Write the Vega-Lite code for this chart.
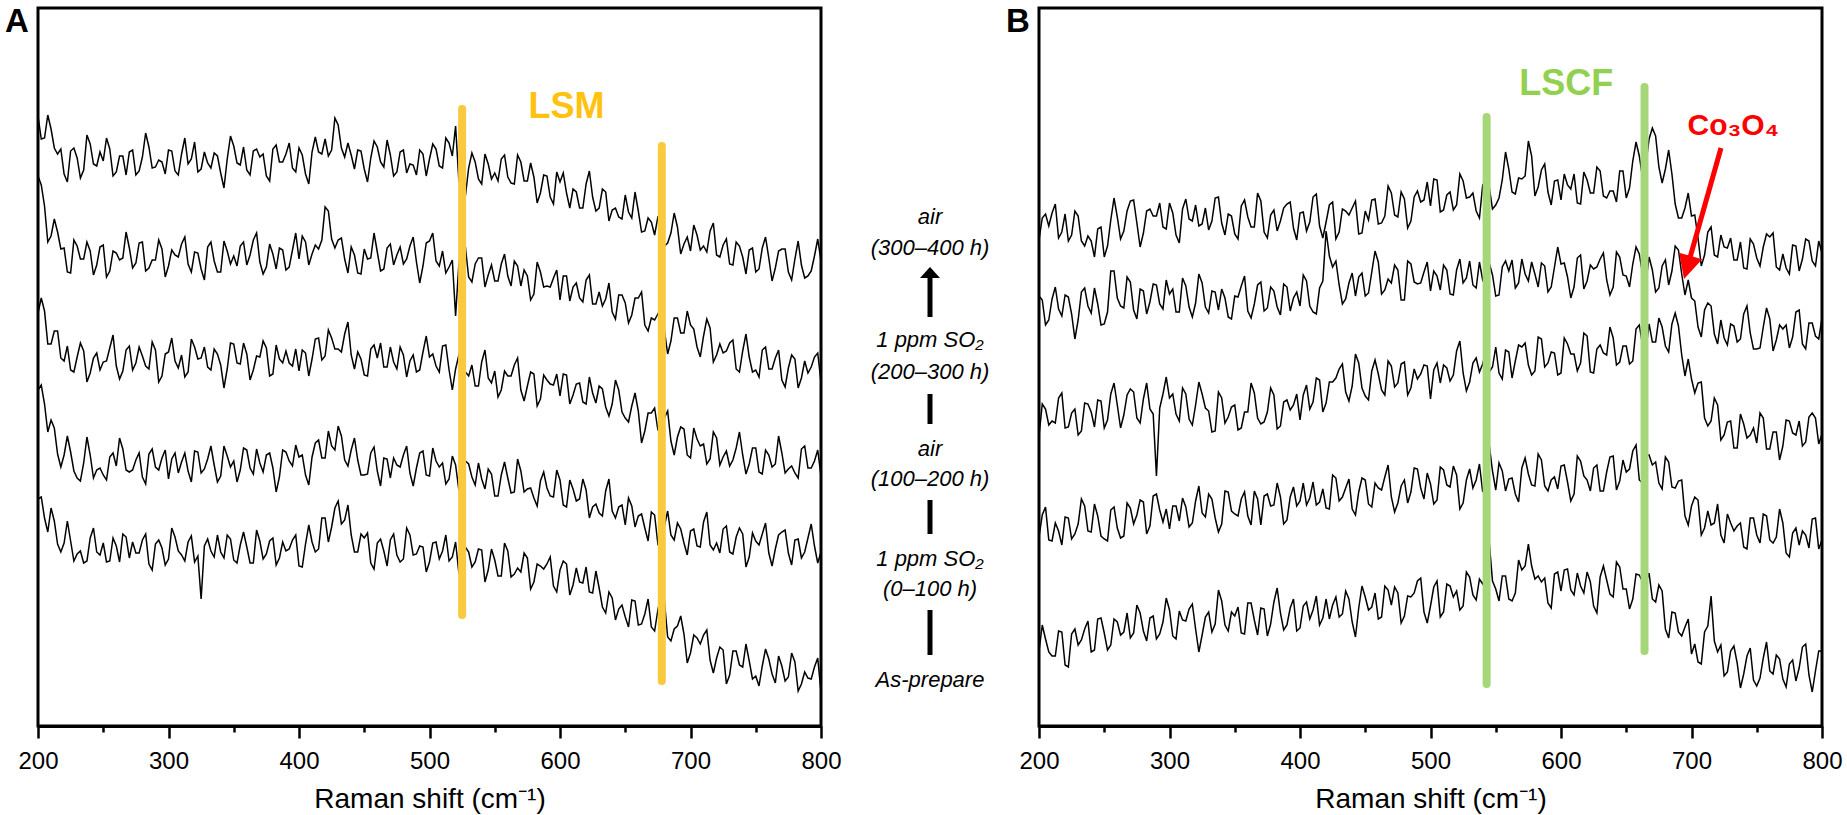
{
"$schema":"https://vega.github.io/schema/vega-lite/v6.json",
"padding":{"left":3,"top":4,"right":5,"bottom":5},
"spacing":0,
"bounds":"flush",
"config":{"font":"Liberation Sans","view":{"stroke":"black","strokeWidth":3},
"axis":{"domainColor":"black","domainWidth":3,"tickColor":"black","tickWidth":2.5,"labelColor":"black","titleColor":"black","labelFont":"Liberation Sans","titleFont":"Liberation Sans","labelFontSize":24,"titleFontSize":28,"titleFontWeight":"normal","grid":false}},
"datasets":{
"a1":[{"x":200,"y":610},{"x":202.5,"y":587},{"x":205,"y":588},{"x":207.5,"y":611},{"x":210,"y":597},{"x":212.5,"y":578},{"x":215,"y":572},{"x":217.5,"y":577},{"x":220,"y":552},{"x":222.5,"y":544},{"x":225,"y":575},{"x":227.5,"y":578},{"x":230,"y":568},{"x":232.5,"y":548},{"x":235,"y":556},{"x":237.5,"y":591},{"x":240,"y":582},{"x":242.5,"y":562},{"x":245,"y":560},{"x":247.5,"y":574},
{"x":250,"y":565},{"x":252.5,"y":588},{"x":255,"y":577},{"x":257.5,"y":550},{"x":260,"y":554},{"x":262.5,"y":570},{"x":265,"y":570},{"x":267.5,"y":551},{"x":270,"y":574},{"x":272.5,"y":576},{"x":275,"y":551},{"x":277.5,"y":555},{"x":280,"y":569},{"x":282.5,"y":593},{"x":285,"y":579},{"x":287.5,"y":558},{"x":290,"y":559},{"x":292.5,"y":566},{"x":295,"y":564},{"x":297.5,"y":552},
{"x":300,"y":576},{"x":302.5,"y":575},{"x":305,"y":555},{"x":307.5,"y":551},{"x":310,"y":572},{"x":312.5,"y":588},{"x":315,"y":562},{"x":317.5,"y":567},{"x":320,"y":584},{"x":322.5,"y":554},{"x":325,"y":557},{"x":327.5,"y":574},{"x":330,"y":563},{"x":332.5,"y":558},{"x":335,"y":573},{"x":337.5,"y":570},{"x":340,"y":553},{"x":342.5,"y":538},{"x":345,"y":567},{"x":347.5,"y":590},
{"x":350,"y":580},{"x":352.5,"y":563},{"x":355,"y":561},{"x":357.5,"y":579},{"x":360,"y":556},{"x":362.5,"y":551},{"x":365,"y":575},{"x":367.5,"y":577},{"x":370,"y":569},{"x":372.5,"y":572},{"x":375,"y":550},{"x":377.5,"y":545},{"x":380,"y":577},{"x":382.5,"y":581},{"x":385,"y":564},{"x":387.5,"y":564},{"x":390,"y":572},{"x":392.5,"y":583},{"x":395,"y":558},{"x":397.5,"y":554},
{"x":400,"y":578},{"x":402.5,"y":571},{"x":405,"y":552},{"x":407.5,"y":542},{"x":410,"y":574},{"x":412.5,"y":589},{"x":415,"y":574},{"x":417.5,"y":572},{"x":420,"y":587},{"x":422.5,"y":570},{"x":425,"y":576},{"x":427.5,"y":608},{"x":430,"y":601},{"x":432.5,"y":578},{"x":435,"y":569},{"x":437.5,"y":583},{"x":440,"y":571},{"x":442.5,"y":557},{"x":445,"y":576},{"x":447.5,"y":575},
{"x":450,"y":557},{"x":452.5,"y":544},{"x":455,"y":568},{"x":457.5,"y":585},{"x":460,"y":579},{"x":462.5,"y":564},{"x":465,"y":559},{"x":467.5,"y":586},{"x":470,"y":571},{"x":472.5,"y":550},{"x":475,"y":554},{"x":477.5,"y":574},{"x":480,"y":576},{"x":482.5,"y":553},{"x":485,"y":562},{"x":487.5,"y":561},{"x":490,"y":551},{"x":492.5,"y":576},{"x":495,"y":572},{"x":497.5,"y":550},
{"x":500,"y":567},{"x":502.5,"y":582},{"x":505,"y":577},{"x":507.5,"y":560},{"x":510,"y":558},{"x":512.5,"y":588},{"x":515,"y":583},{"x":517.5,"y":570},{"x":520,"y":600},{"x":522.5,"y":545},{"x":525,"y":546},{"x":527.5,"y":530},{"x":530,"y":558},{"x":532.5,"y":573},{"x":535,"y":564},{"x":537.5,"y":547},{"x":540,"y":542},{"x":542.5,"y":572},{"x":545,"y":562},{"x":547.5,"y":547},
{"x":550,"y":553},{"x":552.5,"y":545},{"x":555,"y":567},{"x":557.5,"y":571},{"x":560,"y":549},{"x":562.5,"y":543},{"x":565,"y":542},{"x":567.5,"y":571},{"x":570,"y":564},{"x":572.5,"y":545},{"x":575,"y":545},{"x":577.5,"y":563},{"x":580,"y":549},{"x":582.5,"y":523},{"x":585,"y":533},{"x":587.5,"y":551},{"x":590,"y":550},{"x":592.5,"y":529},{"x":595,"y":522},{"x":597.5,"y":554},
{"x":600,"y":544},{"x":602.5,"y":553},{"x":605,"y":533},{"x":607.5,"y":518},{"x":610,"y":537},{"x":612.5,"y":534},{"x":615,"y":518},{"x":617.5,"y":518},{"x":620,"y":542},{"x":622.5,"y":555},{"x":625,"y":529},{"x":627.5,"y":515},{"x":630,"y":518},{"x":632.5,"y":537},{"x":635,"y":534},{"x":637.5,"y":505},{"x":640,"y":516},{"x":642.5,"y":518},{"x":645,"y":509},{"x":647.5,"y":507},
{"x":650,"y":531},{"x":652.5,"y":514},{"x":655,"y":508},{"x":657.5,"y":534},{"x":660,"y":515},{"x":662.5,"y":494},{"x":665,"y":495},{"x":667.5,"y":508},{"x":670,"y":504},{"x":672.5,"y":491},{"x":675,"y":509},{"x":677.5,"y":507},{"x":680,"y":480},{"x":682.5,"y":483},{"x":685,"y":493},{"x":687.5,"y":513},{"x":690,"y":499},{"x":692.5,"y":472},{"x":695,"y":482},{"x":697.5,"y":489},
{"x":700,"y":475},{"x":702.5,"y":501},{"x":705,"y":491},{"x":707.5,"y":476},{"x":710,"y":480},{"x":712.5,"y":474},{"x":715,"y":495},{"x":717.5,"y":503},{"x":720,"y":471},{"x":722.5,"y":469},{"x":725,"y":481},{"x":727.5,"y":487},{"x":730,"y":462},{"x":732.5,"y":461},{"x":735,"y":484},{"x":737.5,"y":480},{"x":740,"y":469},{"x":742.5,"y":452},{"x":745,"y":476},{"x":747.5,"y":478},
{"x":750,"y":454},{"x":752.5,"y":457},{"x":755,"y":478},{"x":757.5,"y":489},{"x":760,"y":468},{"x":762.5,"y":445},{"x":765,"y":458},{"x":767.5,"y":475},{"x":770,"y":477},{"x":772.5,"y":477},{"x":775,"y":454},{"x":777.5,"y":446},{"x":780,"y":467},{"x":782.5,"y":485},{"x":785,"y":461},{"x":787.5,"y":448},{"x":790,"y":450},{"x":792.5,"y":455},{"x":795,"y":470},{"x":797.5,"y":487},
{"x":800,"y":465}],
"a2":[{"x":200,"y":550},{"x":202.5,"y":541},{"x":205,"y":520},{"x":207.5,"y":484},{"x":210,"y":490},{"x":212.5,"y":507},{"x":215,"y":494},{"x":217.5,"y":477},{"x":220,"y":478},{"x":222.5,"y":454},{"x":225,"y":453},{"x":227.5,"y":486},{"x":230,"y":480},{"x":232.5,"y":467},{"x":235,"y":467},{"x":237.5,"y":484},{"x":240,"y":475},{"x":242.5,"y":451},{"x":245,"y":461},{"x":247.5,"y":479},
{"x":250,"y":481},{"x":252.5,"y":449},{"x":255,"y":455},{"x":257.5,"y":475},{"x":260,"y":473},{"x":262.5,"y":466},{"x":265,"y":468},{"x":267.5,"y":494},{"x":270,"y":478},{"x":272.5,"y":458},{"x":275,"y":463},{"x":277.5,"y":483},{"x":280,"y":484},{"x":282.5,"y":455},{"x":285,"y":458},{"x":287.5,"y":466},{"x":290,"y":466},{"x":292.5,"y":486},{"x":295,"y":477},{"x":297.5,"y":449},
{"x":300,"y":460},{"x":302.5,"y":476},{"x":305,"y":471},{"x":307.5,"y":469},{"x":310,"y":482},{"x":312.5,"y":489},{"x":315,"y":462},{"x":317.5,"y":454},{"x":320,"y":474},{"x":322.5,"y":473},{"x":325,"y":457},{"x":327.5,"y":446},{"x":330,"y":479},{"x":332.5,"y":484},{"x":335,"y":465},{"x":337.5,"y":454},{"x":340,"y":454},{"x":342.5,"y":485},{"x":345,"y":475},{"x":347.5,"y":462},
{"x":350,"y":470},{"x":352.5,"y":460},{"x":355,"y":480},{"x":357.5,"y":484},{"x":360,"y":461},{"x":362.5,"y":471},{"x":365,"y":486},{"x":367.5,"y":493},{"x":370,"y":464},{"x":372.5,"y":452},{"x":375,"y":459},{"x":377.5,"y":482},{"x":380,"y":472},{"x":382.5,"y":457},{"x":385,"y":478},{"x":387.5,"y":476},{"x":390,"y":456},{"x":392.5,"y":459},{"x":395,"y":476},{"x":397.5,"y":493},
{"x":400,"y":467},{"x":402.5,"y":490},{"x":405,"y":484},{"x":407.5,"y":461},{"x":410,"y":472},{"x":412.5,"y":481},{"x":415,"y":477},{"x":417.5,"y":486},{"x":420,"y":519},{"x":422.5,"y":515},{"x":425,"y":487},{"x":427.5,"y":478},{"x":430,"y":486},{"x":432.5,"y":488},{"x":435,"y":467},{"x":437.5,"y":453},{"x":440,"y":479},{"x":442.5,"y":471},{"x":445,"y":453},{"x":447.5,"y":452},
{"x":450,"y":477},{"x":452.5,"y":467},{"x":455,"y":468},{"x":457.5,"y":493},{"x":460,"y":474},{"x":462.5,"y":455},{"x":465,"y":457},{"x":467.5,"y":478},{"x":470,"y":482},{"x":472.5,"y":461},{"x":475,"y":471},{"x":477.5,"y":479},{"x":480,"y":462},{"x":482.5,"y":467},{"x":485,"y":480},{"x":487.5,"y":489},{"x":490,"y":464},{"x":492.5,"y":443},{"x":495,"y":460},{"x":497.5,"y":483},
{"x":500,"y":485},{"x":502.5,"y":493},{"x":505,"y":465},{"x":507.5,"y":460},{"x":510,"y":475},{"x":512.5,"y":453},{"x":515,"y":459},{"x":517.5,"y":466},{"x":520,"y":410},{"x":522.5,"y":462},{"x":525,"y":478},{"x":527.5,"y":479},{"x":530,"y":449},{"x":532.5,"y":444},{"x":535,"y":462},{"x":537.5,"y":468},{"x":540,"y":468},{"x":542.5,"y":439},{"x":545,"y":451},{"x":547.5,"y":461},
{"x":550,"y":445},{"x":552.5,"y":445},{"x":555,"y":462},{"x":557.5,"y":472},{"x":560,"y":450},{"x":562.5,"y":440},{"x":565,"y":465},{"x":567.5,"y":460},{"x":570,"y":440},{"x":572.5,"y":456},{"x":575,"y":450},{"x":577.5,"y":426},{"x":580,"y":432},{"x":582.5,"y":464},{"x":585,"y":454},{"x":587.5,"y":439},{"x":590,"y":440},{"x":592.5,"y":439},{"x":595,"y":448},{"x":597.5,"y":456},
{"x":600,"y":426},{"x":602.5,"y":450},{"x":605,"y":450},{"x":607.5,"y":425},{"x":610,"y":439},{"x":612.5,"y":443},{"x":615,"y":428},{"x":617.5,"y":424},{"x":620,"y":446},{"x":622.5,"y":451},{"x":625,"y":422},{"x":627.5,"y":422},{"x":630,"y":434},{"x":632.5,"y":420},{"x":635,"y":427},{"x":637.5,"y":443},{"x":640,"y":414},{"x":642.5,"y":407},{"x":645,"y":431},{"x":647.5,"y":431},
{"x":650,"y":423},{"x":652.5,"y":403},{"x":655,"y":411},{"x":657.5,"y":428},{"x":660,"y":428},{"x":662.5,"y":434},{"x":665,"y":401},{"x":667.5,"y":395},{"x":670,"y":408},{"x":672.5,"y":406},{"x":675,"y":412},{"x":677.5,"y":419},{"x":680,"y":396},{"x":682.5,"y":372},{"x":685,"y":385},{"x":687.5,"y":408},{"x":690,"y":408},{"x":692.5,"y":393},{"x":695,"y":393},{"x":697.5,"y":415},
{"x":700,"y":401},{"x":702.5,"y":397},{"x":705,"y":379},{"x":707.5,"y":369},{"x":710,"y":390},{"x":712.5,"y":407},{"x":715,"y":398},{"x":717.5,"y":364},{"x":720,"y":371},{"x":722.5,"y":382},{"x":725,"y":373},{"x":727.5,"y":375},{"x":730,"y":383},{"x":732.5,"y":386},{"x":735,"y":357},{"x":737.5,"y":354},{"x":740,"y":375},{"x":742.5,"y":392},{"x":745,"y":369},{"x":747.5,"y":354},
{"x":750,"y":356},{"x":752.5,"y":349},{"x":755,"y":376},{"x":757.5,"y":379},{"x":760,"y":357},{"x":762.5,"y":357},{"x":765,"y":368},{"x":767.5,"y":376},{"x":770,"y":346},{"x":772.5,"y":339},{"x":775,"y":358},{"x":777.5,"y":371},{"x":780,"y":367},{"x":782.5,"y":338},{"x":785,"y":348},{"x":787.5,"y":365},{"x":790,"y":353},{"x":792.5,"y":359},{"x":795,"y":369},{"x":797.5,"y":373},
{"x":800,"y":344}],
"a3":[{"x":200,"y":413},{"x":202.5,"y":428},{"x":205,"y":415},{"x":207.5,"y":382},{"x":210,"y":382},{"x":212.5,"y":395},{"x":215,"y":395},{"x":217.5,"y":368},{"x":220,"y":365},{"x":222.5,"y":380},{"x":225,"y":356},{"x":227.5,"y":354},{"x":230,"y":369},{"x":232.5,"y":383},{"x":235,"y":375},{"x":237.5,"y":344},{"x":240,"y":353},{"x":242.5,"y":368},{"x":245,"y":373},{"x":247.5,"y":356},
{"x":250,"y":364},{"x":252.5,"y":365},{"x":255,"y":378},{"x":257.5,"y":391},{"x":260,"y":360},{"x":262.5,"y":347},{"x":265,"y":355},{"x":267.5,"y":376},{"x":270,"y":380},{"x":272.5,"y":356},{"x":275,"y":363},{"x":277.5,"y":379},{"x":280,"y":370},{"x":282.5,"y":360},{"x":285,"y":357},{"x":287.5,"y":384},{"x":290,"y":376},{"x":292.5,"y":344},{"x":295,"y":350},{"x":297.5,"y":372},
{"x":300,"y":374},{"x":302.5,"y":388},{"x":305,"y":365},{"x":307.5,"y":358},{"x":310,"y":371},{"x":312.5,"y":349},{"x":315,"y":354},{"x":317.5,"y":387},{"x":320,"y":379},{"x":322.5,"y":367},{"x":325,"y":368},{"x":327.5,"y":379},{"x":330,"y":359},{"x":332.5,"y":356},{"x":335,"y":377},{"x":337.5,"y":372},{"x":340,"y":361},{"x":342.5,"y":338},{"x":345,"y":357},{"x":347.5,"y":383},
{"x":350,"y":382},{"x":352.5,"y":363},{"x":355,"y":362},{"x":357.5,"y":383},{"x":360,"y":372},{"x":362.5,"y":346},{"x":365,"y":356},{"x":367.5,"y":370},{"x":370,"y":369},{"x":372.5,"y":385},{"x":375,"y":378},{"x":377.5,"y":350},{"x":380,"y":352},{"x":382.5,"y":381},{"x":385,"y":367},{"x":387.5,"y":363},{"x":390,"y":375},{"x":392.5,"y":363},{"x":395,"y":360},{"x":397.5,"y":377},
{"x":400,"y":355},{"x":402.5,"y":376},{"x":405,"y":373},{"x":407.5,"y":350},{"x":410,"y":367},{"x":412.5,"y":387},{"x":415,"y":388},{"x":417.5,"y":366},{"x":420,"y":370},{"x":422.5,"y":396},{"x":425,"y":388},{"x":427.5,"y":377},{"x":430,"y":377},{"x":432.5,"y":374},{"x":435,"y":392},{"x":437.5,"y":404},{"x":440,"y":371},{"x":442.5,"y":357},{"x":445,"y":374},{"x":447.5,"y":367},
{"x":450,"y":351},{"x":452.5,"y":350},{"x":455,"y":377},{"x":457.5,"y":381},{"x":460,"y":368},{"x":462.5,"y":383},{"x":465,"y":359},{"x":467.5,"y":359},{"x":470,"y":379},{"x":472.5,"y":364},{"x":475,"y":357},{"x":477.5,"y":379},{"x":480,"y":371},{"x":482.5,"y":349},{"x":485,"y":365},{"x":487.5,"y":371},{"x":490,"y":354},{"x":492.5,"y":356},{"x":495,"y":374},{"x":497.5,"y":390},
{"x":500,"y":369},{"x":502.5,"y":372},{"x":505,"y":360},{"x":507.5,"y":354},{"x":510,"y":380},{"x":512.5,"y":381},{"x":515,"y":356},{"x":517.5,"y":336},{"x":520,"y":357},{"x":522.5,"y":371},{"x":525,"y":364},{"x":527.5,"y":354},{"x":530,"y":350},{"x":532.5,"y":361},{"x":535,"y":340},{"x":537.5,"y":340},{"x":540,"y":364},{"x":542.5,"y":376},{"x":545,"y":348},{"x":547.5,"y":343},
{"x":550,"y":355},{"x":552.5,"y":329},{"x":555,"y":336},{"x":557.5,"y":355},{"x":560,"y":350},{"x":562.5,"y":350},{"x":565,"y":361},{"x":567.5,"y":368},{"x":570,"y":336},{"x":572.5,"y":325},{"x":575,"y":340},{"x":577.5,"y":354},{"x":580,"y":352},{"x":582.5,"y":320},{"x":585,"y":327},{"x":587.5,"y":351},{"x":590,"y":346},{"x":592.5,"y":342},{"x":595,"y":341},{"x":597.5,"y":352},
{"x":600,"y":330},{"x":602.5,"y":352},{"x":605,"y":351},{"x":607.5,"y":322},{"x":610,"y":331},{"x":612.5,"y":342},{"x":615,"y":343},{"x":617.5,"y":324},{"x":620,"y":322},{"x":622.5,"y":349},{"x":625,"y":333},{"x":627.5,"y":323},{"x":630,"y":340},{"x":632.5,"y":337},{"x":635,"y":319},{"x":637.5,"y":310},{"x":640,"y":322},{"x":642.5,"y":346},{"x":645,"y":336},{"x":647.5,"y":314},
{"x":650,"y":308},{"x":652.5,"y":304},{"x":655,"y":320},{"x":657.5,"y":333},{"x":660,"y":315},{"x":662.5,"y":283},{"x":665,"y":295},{"x":667.5,"y":313},{"x":670,"y":313},{"x":672.5,"y":318},{"x":675,"y":296},{"x":677.5,"y":295},{"x":680,"y":308},{"x":682.5,"y":315},{"x":685,"y":285},{"x":687.5,"y":271},{"x":690,"y":289},{"x":692.5,"y":299},{"x":695,"y":297},{"x":697.5,"y":271},
{"x":700,"y":268},{"x":702.5,"y":298},{"x":705,"y":287},{"x":707.5,"y":280},{"x":710,"y":282},{"x":712.5,"y":262},{"x":715,"y":267},{"x":717.5,"y":294},{"x":720,"y":288},{"x":722.5,"y":261},{"x":725,"y":269},{"x":727.5,"y":275},{"x":730,"y":260},{"x":732.5,"y":266},{"x":735,"y":278},{"x":737.5,"y":294},{"x":740,"y":271},{"x":742.5,"y":252},{"x":745,"y":262},{"x":747.5,"y":278},
{"x":750,"y":278},{"x":752.5,"y":254},{"x":755,"y":252},{"x":757.5,"y":276},{"x":760,"y":271},{"x":762.5,"y":259},{"x":765,"y":262},{"x":767.5,"y":290},{"x":770,"y":273},{"x":772.5,"y":253},{"x":775,"y":257},{"x":777.5,"y":260},{"x":780,"y":253},{"x":782.5,"y":248},{"x":785,"y":277},{"x":787.5,"y":280},{"x":790,"y":258},{"x":792.5,"y":258},{"x":795,"y":265},{"x":797.5,"y":276},
{"x":800,"y":250}],
"a4":[{"x":200,"y":336},{"x":202.5,"y":341},{"x":205,"y":322},{"x":207.5,"y":294},{"x":210,"y":306},{"x":212.5,"y":298},{"x":215,"y":272},{"x":217.5,"y":259},{"x":220,"y":271},{"x":222.5,"y":290},{"x":225,"y":274},{"x":227.5,"y":255},{"x":230,"y":248},{"x":232.5,"y":245},{"x":235,"y":263},{"x":237.5,"y":289},{"x":240,"y":271},{"x":242.5,"y":248},{"x":245,"y":256},{"x":247.5,"y":258},
{"x":250,"y":251},{"x":252.5,"y":246},{"x":255,"y":269},{"x":257.5,"y":273},{"x":260,"y":260},{"x":262.5,"y":288},{"x":265,"y":277},{"x":267.5,"y":256},{"x":270,"y":254},{"x":272.5,"y":256},{"x":275,"y":266},{"x":277.5,"y":273},{"x":280,"y":249},{"x":282.5,"y":242},{"x":285,"y":272},{"x":287.5,"y":277},{"x":290,"y":259},{"x":292.5,"y":256},{"x":295,"y":268},{"x":297.5,"y":276},
{"x":300,"y":247},{"x":302.5,"y":267},{"x":305,"y":273},{"x":307.5,"y":253},{"x":310,"y":264},{"x":312.5,"y":273},{"x":315,"y":255},{"x":317.5,"y":244},{"x":320,"y":275},{"x":322.5,"y":274},{"x":325,"y":253},{"x":327.5,"y":257},{"x":330,"y":267},{"x":332.5,"y":280},{"x":335,"y":261},{"x":337.5,"y":244},{"x":340,"y":250},{"x":342.5,"y":280},{"x":345,"y":270},{"x":347.5,"y":259},
{"x":350,"y":265},{"x":352.5,"y":244},{"x":355,"y":256},{"x":357.5,"y":278},{"x":360,"y":276},{"x":362.5,"y":258},{"x":365,"y":252},{"x":367.5,"y":277},{"x":370,"y":263},{"x":372.5,"y":254},{"x":375,"y":271},{"x":377.5,"y":273},{"x":380,"y":258},{"x":382.5,"y":234},{"x":385,"y":249},{"x":387.5,"y":276},{"x":390,"y":274},{"x":392.5,"y":265},{"x":395,"y":260},{"x":397.5,"y":281},
{"x":400,"y":269},{"x":402.5,"y":271},{"x":405,"y":251},{"x":407.5,"y":241},{"x":410,"y":269},{"x":412.5,"y":283},{"x":415,"y":286},{"x":417.5,"y":268},{"x":420,"y":268},{"x":422.5,"y":295},{"x":425,"y":280},{"x":427.5,"y":276},{"x":430,"y":300},{"x":432.5,"y":290},{"x":435,"y":266},{"x":437.5,"y":260},{"x":440,"y":276},{"x":442.5,"y":288},{"x":445,"y":266},{"x":447.5,"y":251},
{"x":450,"y":251},{"x":452.5,"y":252},{"x":455,"y":273},{"x":457.5,"y":279},{"x":460,"y":255},{"x":462.5,"y":240},{"x":465,"y":268},{"x":467.5,"y":267},{"x":470,"y":248},{"x":472.5,"y":268},{"x":475,"y":261},{"x":477.5,"y":259},{"x":480,"y":271},{"x":482.5,"y":280},{"x":485,"y":253},{"x":487.5,"y":240},{"x":490,"y":258},{"x":492.5,"y":273},{"x":495,"y":275},{"x":497.5,"y":251},
{"x":500,"y":250},{"x":502.5,"y":278},{"x":505,"y":265},{"x":507.5,"y":259},{"x":510,"y":263},{"x":512.5,"y":242},{"x":515,"y":247},{"x":517.5,"y":270},{"x":520,"y":261},{"x":522.5,"y":236},{"x":525,"y":247},{"x":527.5,"y":265},{"x":530,"y":262},{"x":532.5,"y":249},{"x":535,"y":241},{"x":537.5,"y":263},{"x":540,"y":247},{"x":542.5,"y":237},{"x":545,"y":257},{"x":547.5,"y":252},
{"x":550,"y":230},{"x":552.5,"y":230},{"x":555,"y":251},{"x":557.5,"y":264},{"x":560,"y":248},{"x":562.5,"y":233},{"x":565,"y":234},{"x":567.5,"y":267},{"x":570,"y":255},{"x":572.5,"y":234},{"x":575,"y":237},{"x":577.5,"y":238},{"x":580,"y":228},{"x":582.5,"y":220},{"x":585,"y":245},{"x":587.5,"y":254},{"x":590,"y":238},{"x":592.5,"y":230},{"x":595,"y":229},{"x":597.5,"y":256},
{"x":600,"y":246},{"x":602.5,"y":221},{"x":605,"y":219},{"x":607.5,"y":246},{"x":610,"y":237},{"x":612.5,"y":225},{"x":615,"y":227},{"x":617.5,"y":247},{"x":620,"y":236},{"x":622.5,"y":208},{"x":625,"y":219},{"x":627.5,"y":222},{"x":630,"y":213},{"x":632.5,"y":210},{"x":635,"y":235},{"x":637.5,"y":247},{"x":640,"y":215},{"x":642.5,"y":208},{"x":645,"y":219},{"x":647.5,"y":221},
{"x":650,"y":201},{"x":652.5,"y":228},{"x":655,"y":220},{"x":657.5,"y":199},{"x":660,"y":210},{"x":662.5,"y":212},{"x":665,"y":198},{"x":667.5,"y":185},{"x":670,"y":214},{"x":672.5,"y":211},{"x":675,"y":182},{"x":677.5,"y":186},{"x":680,"y":200},{"x":682.5,"y":215},{"x":685,"y":191},{"x":687.5,"y":186},{"x":690,"y":203},{"x":692.5,"y":197},{"x":695,"y":183},{"x":697.5,"y":171},
{"x":700,"y":195},{"x":702.5,"y":197},{"x":705,"y":180},{"x":707.5,"y":179},{"x":710,"y":204},{"x":712.5,"y":214},{"x":715,"y":181},{"x":717.5,"y":176},{"x":720,"y":183},{"x":722.5,"y":173},{"x":725,"y":197},{"x":727.5,"y":200},{"x":730,"y":174},{"x":732.5,"y":172},{"x":735,"y":189},{"x":737.5,"y":198},{"x":740,"y":192},{"x":742.5,"y":159},{"x":745,"y":169},{"x":747.5,"y":193},
{"x":750,"y":185},{"x":752.5,"y":181},{"x":755,"y":192},{"x":757.5,"y":203},{"x":760,"y":173},{"x":762.5,"y":160},{"x":765,"y":177},{"x":767.5,"y":191},{"x":770,"y":194},{"x":772.5,"y":196},{"x":775,"y":173},{"x":777.5,"y":161},{"x":780,"y":186},{"x":782.5,"y":187},{"x":785,"y":168},{"x":787.5,"y":174},{"x":790,"y":188},{"x":792.5,"y":202},{"x":795,"y":180},{"x":797.5,"y":163},
{"x":800,"y":174}],
"a5":[{"x":200,"y":227},{"x":202.5,"y":229},{"x":205,"y":208},{"x":207.5,"y":194},{"x":210,"y":218},{"x":212.5,"y":205},{"x":215,"y":182},{"x":217.5,"y":174},{"x":220,"y":183},{"x":222.5,"y":205},{"x":225,"y":185},{"x":227.5,"y":165},{"x":230,"y":172},{"x":232.5,"y":175},{"x":235,"y":163},{"x":237.5,"y":165},{"x":240,"y":188},{"x":242.5,"y":198},{"x":245,"y":174},{"x":247.5,"y":171},
{"x":250,"y":183},{"x":252.5,"y":164},{"x":255,"y":165},{"x":257.5,"y":188},{"x":260,"y":180},{"x":262.5,"y":164},{"x":265,"y":192},{"x":267.5,"y":189},{"x":270,"y":168},{"x":272.5,"y":184},{"x":275,"y":173},{"x":277.5,"y":173},{"x":280,"y":186},{"x":282.5,"y":192},{"x":285,"y":162},{"x":287.5,"y":156},{"x":290,"y":182},{"x":292.5,"y":186},{"x":295,"y":178},{"x":297.5,"y":161},
{"x":300,"y":167},{"x":302.5,"y":198},{"x":305,"y":189},{"x":307.5,"y":175},{"x":310,"y":171},{"x":312.5,"y":165},{"x":315,"y":184},{"x":317.5,"y":190},{"x":320,"y":164},{"x":322.5,"y":170},{"x":325,"y":127},{"x":327.5,"y":180},{"x":330,"y":187},{"x":332.5,"y":175},{"x":335,"y":169},{"x":337.5,"y":191},{"x":340,"y":174},{"x":342.5,"y":168},{"x":345,"y":191},{"x":347.5,"y":187},
{"x":350,"y":166},{"x":352.5,"y":163},{"x":355,"y":181},{"x":357.5,"y":194},{"x":360,"y":179},{"x":362.5,"y":163},{"x":365,"y":163},{"x":367.5,"y":196},{"x":370,"y":185},{"x":372.5,"y":167},{"x":375,"y":172},{"x":377.5,"y":185},{"x":380,"y":188},{"x":382.5,"y":161},{"x":385,"y":168},{"x":387.5,"y":184},{"x":390,"y":175},{"x":392.5,"y":177},{"x":395,"y":186},{"x":397.5,"y":191},
{"x":400,"y":160},{"x":402.5,"y":159},{"x":405,"y":182},{"x":407.5,"y":201},{"x":410,"y":184},{"x":412.5,"y":174},{"x":415,"y":177},{"x":417.5,"y":208},{"x":420,"y":208},{"x":422.5,"y":184},{"x":425,"y":199},{"x":427.5,"y":218},{"x":430,"y":225},{"x":432.5,"y":202},{"x":435,"y":206},{"x":437.5,"y":221},{"x":440,"y":191},{"x":442.5,"y":174},{"x":445,"y":174},{"x":447.5,"y":192},
{"x":450,"y":188},{"x":452.5,"y":193},{"x":455,"y":163},{"x":457.5,"y":157},{"x":460,"y":183},{"x":462.5,"y":187},{"x":465,"y":175},{"x":467.5,"y":160},{"x":470,"y":186},{"x":472.5,"y":192},{"x":475,"y":171},{"x":477.5,"y":164},{"x":480,"y":167},{"x":482.5,"y":198},{"x":485,"y":191},{"x":487.5,"y":171},{"x":490,"y":172},{"x":492.5,"y":180},{"x":495,"y":179},{"x":497.5,"y":154},
{"x":500,"y":164},{"x":502.5,"y":183},{"x":505,"y":184},{"x":507.5,"y":167},{"x":510,"y":175},{"x":512.5,"y":191},{"x":515,"y":165},{"x":517.5,"y":169},{"x":520,"y":184},{"x":522.5,"y":153},{"x":525,"y":155},{"x":527.5,"y":179},{"x":530,"y":174},{"x":532.5,"y":159},{"x":535,"y":164},{"x":537.5,"y":177},{"x":540,"y":176},{"x":542.5,"y":144},{"x":545,"y":156},{"x":547.5,"y":177},
{"x":550,"y":166},{"x":552.5,"y":150},{"x":555,"y":150},{"x":557.5,"y":183},{"x":560,"y":175},{"x":562.5,"y":149},{"x":565,"y":152},{"x":567.5,"y":158},{"x":570,"y":154},{"x":572.5,"y":173},{"x":575,"y":168},{"x":577.5,"y":137},{"x":580,"y":144},{"x":582.5,"y":162},{"x":585,"y":160},{"x":587.5,"y":157},{"x":590,"y":162},{"x":592.5,"y":169},{"x":595,"y":140},{"x":597.5,"y":134},
{"x":600,"y":156},{"x":602.5,"y":165},{"x":605,"y":162},{"x":607.5,"y":131},{"x":610,"y":141},{"x":612.5,"y":158},{"x":615,"y":144},{"x":617.5,"y":143},{"x":620,"y":159},{"x":622.5,"y":134},{"x":625,"y":133},{"x":627.5,"y":155},{"x":630,"y":138},{"x":632.5,"y":119},{"x":635,"y":113},{"x":637.5,"y":134},{"x":640,"y":128},{"x":642.5,"y":106},{"x":645,"y":117},{"x":647.5,"y":121},
{"x":650,"y":109},{"x":652.5,"y":99},{"x":655,"y":126},{"x":657.5,"y":125},{"x":660,"y":101},{"x":662.5,"y":102},{"x":665,"y":112},{"x":667.5,"y":127},{"x":670,"y":99},{"x":672.5,"y":95},{"x":675,"y":116},{"x":677.5,"y":130},{"x":680,"y":125},{"x":682.5,"y":89},{"x":685,"y":85},{"x":687.5,"y":97},{"x":690,"y":100},{"x":692.5,"y":110},{"x":695,"y":92},{"x":697.5,"y":63},
{"x":700,"y":73},{"x":702.5,"y":91},{"x":705,"y":88},{"x":707.5,"y":82},{"x":710,"y":91},{"x":712.5,"y":96},{"x":715,"y":66},{"x":717.5,"y":53},{"x":720,"y":68},{"x":722.5,"y":79},{"x":725,"y":76},{"x":727.5,"y":42},{"x":730,"y":51},{"x":732.5,"y":75},{"x":735,"y":75},{"x":737.5,"y":61},{"x":740,"y":59},{"x":742.5,"y":82},{"x":745,"y":65},{"x":747.5,"y":47},
{"x":750,"y":50},{"x":752.5,"y":40},{"x":755,"y":60},{"x":757.5,"y":77},{"x":760,"y":67},{"x":762.5,"y":52},{"x":765,"y":43},{"x":767.5,"y":70},{"x":770,"y":60},{"x":772.5,"y":45},{"x":775,"y":49},{"x":777.5,"y":73},{"x":780,"y":64},{"x":782.5,"y":35},{"x":785,"y":42},{"x":787.5,"y":54},{"x":790,"y":48},{"x":792.5,"y":47},{"x":795,"y":59},{"x":797.5,"y":68},
{"x":800,"y":34}],
"b1":[{"x":200,"y":486},{"x":202.5,"y":508},{"x":205,"y":512},{"x":207.5,"y":500},{"x":210,"y":513},{"x":212.5,"y":522},{"x":215,"y":488},{"x":217.5,"y":494},{"x":220,"y":512},{"x":222.5,"y":485},{"x":225,"y":491},{"x":227.5,"y":515},{"x":230,"y":510},{"x":232.5,"y":485},{"x":235,"y":480},{"x":237.5,"y":490},{"x":240,"y":485},{"x":242.5,"y":469},{"x":245,"y":497},{"x":247.5,"y":499},
{"x":250,"y":469},{"x":252.5,"y":480},{"x":255,"y":506},{"x":257.5,"y":528},{"x":260,"y":509},{"x":262.5,"y":487},{"x":265,"y":495},{"x":267.5,"y":515},{"x":270,"y":525},{"x":272.5,"y":526},{"x":275,"y":503},{"x":277.5,"y":479},{"x":280,"y":493},{"x":282.5,"y":515},{"x":285,"y":517},{"x":287.5,"y":510},{"x":290,"y":510},{"x":292.5,"y":523},{"x":295,"y":499},{"x":297.5,"y":497},
{"x":300,"y":523},{"x":302.5,"y":513},{"x":305,"y":491},{"x":307.5,"y":483},{"x":310,"y":517},{"x":312.5,"y":527},{"x":315,"y":507},{"x":317.5,"y":505},{"x":320,"y":521},{"x":322.5,"y":500},{"x":325,"y":502},{"x":327.5,"y":518},{"x":330,"y":496},{"x":332.5,"y":505},{"x":335,"y":528},{"x":337.5,"y":529},{"x":340,"y":503},{"x":342.5,"y":491},{"x":345,"y":512},{"x":347.5,"y":510},
{"x":350,"y":492},{"x":352.5,"y":487},{"x":355,"y":520},{"x":357.5,"y":526},{"x":360,"y":509},{"x":362.5,"y":499},{"x":365,"y":499},{"x":367.5,"y":533},{"x":370,"y":525},{"x":372.5,"y":494},{"x":375,"y":488},{"x":377.5,"y":511},{"x":380,"y":516},{"x":382.5,"y":495},{"x":385,"y":505},{"x":387.5,"y":518},{"x":390,"y":522},{"x":392.5,"y":524},{"x":395,"y":498},{"x":397.5,"y":486},
{"x":400,"y":513},{"x":402.5,"y":514},{"x":405,"y":495},{"x":407.5,"y":504},{"x":410,"y":529},{"x":412.5,"y":532},{"x":415,"y":500},{"x":417.5,"y":488},{"x":420,"y":504},{"x":422.5,"y":521},{"x":425,"y":524},{"x":427.5,"y":487},{"x":430,"y":494},{"x":432.5,"y":517},{"x":435,"y":515},{"x":437.5,"y":511},{"x":440,"y":518},{"x":442.5,"y":525},{"x":445,"y":492},{"x":447.5,"y":493},
{"x":450,"y":515},{"x":452.5,"y":506},{"x":455,"y":526},{"x":457.5,"y":527},{"x":460,"y":502},{"x":462.5,"y":503},{"x":465,"y":510},{"x":467.5,"y":540},{"x":470,"y":533},{"x":472.5,"y":511},{"x":475,"y":509},{"x":477.5,"y":534},{"x":480,"y":527},{"x":482.5,"y":498},{"x":485,"y":505},{"x":487.5,"y":529},{"x":490,"y":535},{"x":492.5,"y":524},{"x":495,"y":526},{"x":497.5,"y":544},
{"x":500,"y":520},{"x":502.5,"y":547},{"x":505,"y":546},{"x":507.5,"y":514},{"x":510,"y":516},{"x":512.5,"y":531},{"x":515,"y":534},{"x":517.5,"y":516},{"x":520,"y":521},{"x":522.5,"y":552},{"x":525,"y":545},{"x":527.5,"y":528},{"x":530,"y":529},{"x":532.5,"y":533},{"x":535,"y":515},{"x":537.5,"y":508},{"x":540,"y":541},{"x":542.5,"y":545},{"x":545,"y":539},{"x":547.5,"y":517},
{"x":550,"y":521},{"x":552.5,"y":528},{"x":555,"y":546},{"x":557.5,"y":574},{"x":560,"y":557},{"x":562.5,"y":534},{"x":565,"y":532},{"x":567.5,"y":548},{"x":570,"y":547},{"x":572.5,"y":550},{"x":575,"y":585},{"x":577.5,"y":570},{"x":580,"y":530},{"x":582.5,"y":539},{"x":585,"y":556},{"x":587.5,"y":562},{"x":590,"y":534},{"x":592.5,"y":521},{"x":595,"y":545},{"x":597.5,"y":546},
{"x":600,"y":526},{"x":602.5,"y":552},{"x":605,"y":541},{"x":607.5,"y":537},{"x":610,"y":552},{"x":612.5,"y":523},{"x":615,"y":522},{"x":617.5,"y":554},{"x":620,"y":546},{"x":622.5,"y":533},{"x":625,"y":533},{"x":627.5,"y":559},{"x":630,"y":555},{"x":632.5,"y":530},{"x":635,"y":528},{"x":637.5,"y":535},{"x":640,"y":535},{"x":642.5,"y":524},{"x":645,"y":555},{"x":647.5,"y":555},
{"x":650,"y":528},{"x":652.5,"y":538},{"x":655,"y":565},{"x":657.5,"y":584},{"x":660,"y":570},{"x":662.5,"y":548},{"x":665,"y":561},{"x":667.5,"y":587},{"x":670,"y":598},{"x":672.5,"y":590},{"x":675,"y":559},{"x":677.5,"y":543},{"x":680,"y":557},{"x":682.5,"y":576},{"x":685,"y":552},{"x":687.5,"y":522},{"x":690,"y":508},{"x":692.5,"y":508},{"x":695,"y":518},{"x":697.5,"y":533},
{"x":700,"y":510},{"x":702.5,"y":511},{"x":705,"y":488},{"x":707.5,"y":460},{"x":710,"y":471},{"x":712.5,"y":494},{"x":715,"y":499},{"x":717.5,"y":471},{"x":720,"y":469},{"x":722.5,"y":491},{"x":725,"y":479},{"x":727.5,"y":478},{"x":730,"y":488},{"x":732.5,"y":466},{"x":735,"y":466},{"x":737.5,"y":484},{"x":740,"y":458},{"x":742.5,"y":457},{"x":745,"y":487},{"x":747.5,"y":482},
{"x":750,"y":468},{"x":752.5,"y":460},{"x":755,"y":479},{"x":757.5,"y":492},{"x":760,"y":489},{"x":762.5,"y":493},{"x":765,"y":459},{"x":767.5,"y":456},{"x":770,"y":472},{"x":772.5,"y":458},{"x":775,"y":452},{"x":777.5,"y":481},{"x":780,"y":480},{"x":782.5,"y":455},{"x":785,"y":467},{"x":787.5,"y":487},{"x":790,"y":485},{"x":792.5,"y":465},{"x":795,"y":460},{"x":797.5,"y":485},
{"x":800,"y":473}],
"b2":[{"x":200,"y":430},{"x":202.5,"y":426},{"x":205,"y":401},{"x":207.5,"y":406},{"x":210,"y":427},{"x":212.5,"y":439},{"x":215,"y":417},{"x":217.5,"y":410},{"x":220,"y":431},{"x":222.5,"y":429},{"x":225,"y":412},{"x":227.5,"y":387},{"x":230,"y":406},{"x":232.5,"y":434},{"x":235,"y":438},{"x":237.5,"y":420},{"x":240,"y":413},{"x":242.5,"y":438},{"x":245,"y":422},{"x":247.5,"y":401},
{"x":250,"y":402},{"x":252.5,"y":414},{"x":255,"y":455},{"x":257.5,"y":455},{"x":260,"y":428},{"x":262.5,"y":420},{"x":265,"y":418},{"x":267.5,"y":449},{"x":270,"y":444},{"x":272.5,"y":416},{"x":275,"y":407},{"x":277.5,"y":437},{"x":280,"y":435},{"x":282.5,"y":412},{"x":285,"y":424},{"x":287.5,"y":442},{"x":290,"y":441},{"x":292.5,"y":422},{"x":295,"y":417},{"x":297.5,"y":446},
{"x":300,"y":432},{"x":302.5,"y":437},{"x":305,"y":414},{"x":307.5,"y":414},{"x":310,"y":448},{"x":312.5,"y":440},{"x":315,"y":419},{"x":317.5,"y":409},{"x":320,"y":423},{"x":322.5,"y":452},{"x":325,"y":443},{"x":327.5,"y":419},{"x":330,"y":413},{"x":332.5,"y":435},{"x":335,"y":434},{"x":337.5,"y":416},{"x":340,"y":437},{"x":342.5,"y":428},{"x":345,"y":409},{"x":347.5,"y":407},
{"x":350,"y":430},{"x":352.5,"y":429},{"x":355,"y":440},{"x":357.5,"y":450},{"x":360,"y":415},{"x":362.5,"y":408},{"x":365,"y":422},{"x":367.5,"y":441},{"x":370,"y":444},{"x":372.5,"y":415},{"x":375,"y":418},{"x":377.5,"y":439},{"x":380,"y":435},{"x":382.5,"y":419},{"x":385,"y":411},{"x":387.5,"y":442},{"x":390,"y":439},{"x":392.5,"y":415},{"x":395,"y":428},{"x":397.5,"y":434},
{"x":400,"y":420},{"x":402.5,"y":451},{"x":405,"y":445},{"x":407.5,"y":420},{"x":410,"y":414},{"x":412.5,"y":412},{"x":415,"y":438},{"x":417.5,"y":445},{"x":420,"y":495},{"x":422.5,"y":470},{"x":425,"y":459},{"x":427.5,"y":465},{"x":430,"y":441},{"x":432.5,"y":422},{"x":435,"y":427},{"x":437.5,"y":443},{"x":440,"y":453},{"x":442.5,"y":430},{"x":445,"y":449},{"x":447.5,"y":453},
{"x":450,"y":430},{"x":452.5,"y":433},{"x":455,"y":454},{"x":457.5,"y":475},{"x":460,"y":464},{"x":462.5,"y":432},{"x":465,"y":436},{"x":467.5,"y":447},{"x":470,"y":443},{"x":472.5,"y":461},{"x":475,"y":456},{"x":477.5,"y":426},{"x":480,"y":426},{"x":482.5,"y":465},{"x":485,"y":462},{"x":487.5,"y":444},{"x":490,"y":442},{"x":492.5,"y":443},{"x":495,"y":454},{"x":497.5,"y":464},
{"x":500,"y":435},{"x":502.5,"y":455},{"x":505,"y":450},{"x":507.5,"y":436},{"x":510,"y":461},{"x":512.5,"y":456},{"x":515,"y":432},{"x":517.5,"y":431},{"x":520,"y":456},{"x":522.5,"y":467},{"x":525,"y":443},{"x":527.5,"y":448},{"x":530,"y":465},{"x":532.5,"y":441},{"x":535,"y":438},{"x":537.5,"y":464},{"x":540,"y":446},{"x":542.5,"y":439},{"x":545,"y":463},{"x":547.5,"y":451},
{"x":550,"y":430},{"x":552.5,"y":431},{"x":555,"y":459},{"x":557.5,"y":465},{"x":560,"y":455},{"x":562.5,"y":466},{"x":565,"y":438},{"x":567.5,"y":443},{"x":570,"y":467},{"x":572.5,"y":452},{"x":575,"y":445},{"x":577.5,"y":464},{"x":580,"y":452},{"x":582.5,"y":439},{"x":585,"y":463},{"x":587.5,"y":460},{"x":590,"y":434},{"x":592.5,"y":439},{"x":595,"y":459},{"x":597.5,"y":479},
{"x":600,"y":462},{"x":602.5,"y":463},{"x":605,"y":449},{"x":607.5,"y":428},{"x":610,"y":439},{"x":612.5,"y":468},{"x":615,"y":471},{"x":617.5,"y":437},{"x":620,"y":445},{"x":622.5,"y":461},{"x":625,"y":457},{"x":627.5,"y":459},{"x":630,"y":467},{"x":632.5,"y":473},{"x":635,"y":446},{"x":637.5,"y":431},{"x":640,"y":439},{"x":642.5,"y":474},{"x":645,"y":469},{"x":647.5,"y":451},
{"x":650,"y":450},{"x":652.5,"y":439},{"x":655,"y":462},{"x":657.5,"y":479},{"x":660,"y":472},{"x":662.5,"y":452},{"x":665,"y":443},{"x":667.5,"y":469},{"x":670,"y":456},{"x":672.5,"y":434},{"x":675,"y":438},{"x":677.5,"y":460},{"x":680,"y":466},{"x":682.5,"y":441},{"x":685,"y":455},{"x":687.5,"y":480},{"x":690,"y":476},{"x":692.5,"y":452},{"x":695,"y":431},{"x":697.5,"y":446},
{"x":700,"y":428},{"x":702.5,"y":425},{"x":705,"y":399},{"x":707.5,"y":389},{"x":710,"y":416},{"x":712.5,"y":423},{"x":715,"y":420},{"x":717.5,"y":392},{"x":720,"y":382},{"x":722.5,"y":406},{"x":725,"y":388},{"x":727.5,"y":381},{"x":730,"y":402},{"x":732.5,"y":400},{"x":735,"y":384},{"x":737.5,"y":387},{"x":740,"y":412},{"x":742.5,"y":420},{"x":745,"y":393},{"x":747.5,"y":377},
{"x":750,"y":377},{"x":752.5,"y":378},{"x":755,"y":399},{"x":757.5,"y":418},{"x":760,"y":407},{"x":762.5,"y":375},{"x":765,"y":386},{"x":767.5,"y":401},{"x":770,"y":397},{"x":772.5,"y":401},{"x":775,"y":378},{"x":777.5,"y":389},{"x":780,"y":414},{"x":782.5,"y":416},{"x":785,"y":382},{"x":787.5,"y":377},{"x":790,"y":403},{"x":792.5,"y":403},{"x":795,"y":390},{"x":797.5,"y":387},
{"x":800,"y":408}],
"b3":[{"x":200,"y":290},{"x":202.5,"y":322},{"x":205,"y":317},{"x":207.5,"y":301},{"x":210,"y":305},{"x":212.5,"y":303},{"x":215,"y":328},{"x":217.5,"y":333},{"x":220,"y":298},{"x":222.5,"y":299},{"x":225,"y":313},{"x":227.5,"y":317},{"x":230,"y":291},{"x":232.5,"y":295},{"x":235,"y":323},{"x":237.5,"y":322},{"x":240,"y":314},{"x":242.5,"y":299},{"x":245,"y":326},{"x":247.5,"y":325},
{"x":250,"y":298},{"x":252.5,"y":306},{"x":255,"y":332},{"x":257.5,"y":343},{"x":260,"y":321},{"x":262.5,"y":298},{"x":265,"y":311},{"x":267.5,"y":331},{"x":270,"y":337},{"x":272.5,"y":334},{"x":275,"y":308},{"x":277.5,"y":303},{"x":280,"y":327},{"x":282.5,"y":343},{"x":285,"y":317},{"x":287.5,"y":312},{"x":290,"y":250},{"x":292.5,"y":318},{"x":295,"y":332},{"x":297.5,"y":349},
{"x":300,"y":328},{"x":302.5,"y":332},{"x":305,"y":312},{"x":307.5,"y":305},{"x":310,"y":338},{"x":312.5,"y":332},{"x":315,"y":307},{"x":317.5,"y":301},{"x":320,"y":321},{"x":322.5,"y":344},{"x":325,"y":332},{"x":327.5,"y":318},{"x":330,"y":315},{"x":332.5,"y":294},{"x":335,"y":295},{"x":337.5,"y":334},{"x":340,"y":328},{"x":342.5,"y":303},{"x":345,"y":309},{"x":347.5,"y":319},
{"x":350,"y":321},{"x":352.5,"y":296},{"x":355,"y":298},{"x":357.5,"y":314},{"x":360,"y":314},{"x":362.5,"y":343},{"x":365,"y":333},{"x":367.5,"y":308},{"x":370,"y":302},{"x":372.5,"y":304},{"x":375,"y":314},{"x":377.5,"y":338},{"x":380,"y":331},{"x":382.5,"y":297},{"x":385,"y":300},{"x":387.5,"y":324},{"x":390,"y":326},{"x":392.5,"y":316},{"x":395,"y":321},{"x":397.5,"y":332},
{"x":400,"y":306},{"x":402.5,"y":331},{"x":405,"y":341},{"x":407.5,"y":317},{"x":410,"y":324},{"x":412.5,"y":348},{"x":415,"y":346},{"x":417.5,"y":314},{"x":420,"y":323},{"x":422.5,"y":344},{"x":425,"y":344},{"x":427.5,"y":348},{"x":430,"y":357},{"x":432.5,"y":362},{"x":435,"y":334},{"x":437.5,"y":325},{"x":440,"y":340},{"x":442.5,"y":372},{"x":445,"y":363},{"x":447.5,"y":338},
{"x":450,"y":330},{"x":452.5,"y":326},{"x":455,"y":355},{"x":457.5,"y":366},{"x":460,"y":352},{"x":462.5,"y":336},{"x":465,"y":331},{"x":467.5,"y":365},{"x":470,"y":360},{"x":472.5,"y":339},{"x":475,"y":343},{"x":477.5,"y":362},{"x":480,"y":364},{"x":482.5,"y":331},{"x":485,"y":338},{"x":487.5,"y":357},{"x":490,"y":347},{"x":492.5,"y":352},{"x":495,"y":361},{"x":497.5,"y":360},
{"x":500,"y":327},{"x":502.5,"y":356},{"x":505,"y":363},{"x":507.5,"y":343},{"x":510,"y":361},{"x":512.5,"y":358},{"x":515,"y":345},{"x":517.5,"y":351},{"x":520,"y":375},{"x":522.5,"y":385},{"x":525,"y":353},{"x":527.5,"y":335},{"x":530,"y":344},{"x":532.5,"y":363},{"x":535,"y":368},{"x":537.5,"y":354},{"x":540,"y":362},{"x":542.5,"y":375},{"x":545,"y":354},{"x":547.5,"y":359},
{"x":550,"y":379},{"x":552.5,"y":353},{"x":555,"y":347},{"x":557.5,"y":376},{"x":560,"y":374},{"x":562.5,"y":348},{"x":565,"y":365},{"x":567.5,"y":381},{"x":570,"y":379},{"x":572.5,"y":383},{"x":575,"y":361},{"x":577.5,"y":351},{"x":580,"y":355},{"x":582.5,"y":389},{"x":585,"y":387},{"x":587.5,"y":359},{"x":590,"y":363},{"x":592.5,"y":374},{"x":595,"y":373},{"x":597.5,"y":351},
{"x":600,"y":353},{"x":602.5,"y":388},{"x":605,"y":382},{"x":607.5,"y":372},{"x":610,"y":372},{"x":612.5,"y":355},{"x":615,"y":363},{"x":617.5,"y":393},{"x":620,"y":390},{"x":622.5,"y":354},{"x":625,"y":353},{"x":627.5,"y":377},{"x":630,"y":381},{"x":632.5,"y":373},{"x":635,"y":371},{"x":637.5,"y":399},{"x":640,"y":388},{"x":642.5,"y":361},{"x":645,"y":364},{"x":647.5,"y":380},
{"x":650,"y":380},{"x":652.5,"y":362},{"x":655,"y":365},{"x":657.5,"y":397},{"x":660,"y":401},{"x":662.5,"y":381},{"x":665,"y":376},{"x":667.5,"y":402},{"x":670,"y":384},{"x":672.5,"y":384},{"x":675,"y":408},{"x":677.5,"y":399},{"x":680,"y":380},{"x":682.5,"y":374},{"x":685,"y":402},{"x":687.5,"y":413},{"x":690,"y":400},{"x":692.5,"y":371},{"x":695,"y":350},{"x":697.5,"y":367},
{"x":700,"y":347},{"x":702.5,"y":333},{"x":705,"y":343},{"x":707.5,"y":344},{"x":710,"y":308},{"x":712.5,"y":300},{"x":715,"y":305},{"x":717.5,"y":328},{"x":720,"y":321},{"x":722.5,"y":286},{"x":725,"y":291},{"x":727.5,"y":304},{"x":730,"y":305},{"x":732.5,"y":278},{"x":735,"y":278},{"x":737.5,"y":312},{"x":740,"y":302},{"x":742.5,"y":288},{"x":745,"y":291},{"x":747.5,"y":298},
{"x":750,"y":283},{"x":752.5,"y":313},{"x":755,"y":308},{"x":757.5,"y":277},{"x":760,"y":277},{"x":762.5,"y":294},{"x":765,"y":294},{"x":767.5,"y":266},{"x":770,"y":280},{"x":772.5,"y":306},{"x":775,"y":305},{"x":777.5,"y":293},{"x":780,"y":291},{"x":782.5,"y":305},{"x":785,"y":280},{"x":787.5,"y":284},{"x":790,"y":309},{"x":792.5,"y":313},{"x":795,"y":308},{"x":797.5,"y":282},
{"x":800,"y":292}],
"b4":[{"x":200,"y":189},{"x":202.5,"y":211},{"x":205,"y":219},{"x":207.5,"y":186},{"x":210,"y":185},{"x":212.5,"y":203},{"x":215,"y":195},{"x":217.5,"y":181},{"x":220,"y":209},{"x":222.5,"y":208},{"x":225,"y":187},{"x":227.5,"y":192},{"x":230,"y":202},{"x":232.5,"y":227},{"x":235,"y":220},{"x":237.5,"y":195},{"x":240,"y":194},{"x":242.5,"y":222},{"x":245,"y":210},{"x":247.5,"y":190},
{"x":250,"y":187},{"x":252.5,"y":185},{"x":255,"y":216},{"x":257.5,"y":219},{"x":260,"y":198},{"x":262.5,"y":188},{"x":265,"y":190},{"x":267.5,"y":223},{"x":270,"y":218},{"x":272.5,"y":202},{"x":275,"y":211},{"x":277.5,"y":226},{"x":280,"y":224},{"x":282.5,"y":192},{"x":285,"y":200},{"x":287.5,"y":230},{"x":290,"y":232},{"x":292.5,"y":216},{"x":295,"y":204},{"x":297.5,"y":217},
{"x":300,"y":197},{"x":302.5,"y":220},{"x":305,"y":220},{"x":307.5,"y":205},{"x":310,"y":228},{"x":312.5,"y":219},{"x":315,"y":199},{"x":317.5,"y":203},{"x":320,"y":225},{"x":322.5,"y":240},{"x":325,"y":213},{"x":327.5,"y":209},{"x":330,"y":232},{"x":332.5,"y":227},{"x":335,"y":208},{"x":337.5,"y":194},{"x":340,"y":202},{"x":342.5,"y":235},{"x":345,"y":234},{"x":347.5,"y":215},
{"x":350,"y":212},{"x":352.5,"y":210},{"x":355,"y":227},{"x":357.5,"y":234},{"x":360,"y":210},{"x":362.5,"y":201},{"x":365,"y":235},{"x":367.5,"y":227},{"x":370,"y":201},{"x":372.5,"y":230},{"x":375,"y":232},{"x":377.5,"y":220},{"x":380,"y":221},{"x":382.5,"y":243},{"x":385,"y":229},{"x":387.5,"y":202},{"x":390,"y":206},{"x":392.5,"y":229},{"x":395,"y":239},{"x":397.5,"y":220},
{"x":400,"y":225},{"x":402.5,"y":243},{"x":405,"y":221},{"x":407.5,"y":228},{"x":410,"y":244},{"x":412.5,"y":221},{"x":415,"y":224},{"x":417.5,"y":237},{"x":420,"y":218},{"x":422.5,"y":217},{"x":425,"y":251},{"x":427.5,"y":248},{"x":430,"y":225},{"x":432.5,"y":229},{"x":435,"y":238},{"x":437.5,"y":247},{"x":440,"y":217},{"x":442.5,"y":211},{"x":445,"y":234},{"x":447.5,"y":248},
{"x":450,"y":246},{"x":452.5,"y":222},{"x":455,"y":219},{"x":457.5,"y":243},{"x":460,"y":238},{"x":462.5,"y":236},{"x":465,"y":249},{"x":467.5,"y":261},{"x":470,"y":229},{"x":472.5,"y":214},{"x":475,"y":223},{"x":477.5,"y":240},{"x":480,"y":246},{"x":482.5,"y":223},{"x":485,"y":234},{"x":487.5,"y":258},{"x":490,"y":257},{"x":492.5,"y":238},{"x":495,"y":227},{"x":497.5,"y":253},
{"x":500,"y":242},{"x":502.5,"y":222},{"x":505,"y":226},{"x":507.5,"y":259},{"x":510,"y":256},{"x":512.5,"y":241},{"x":515,"y":239},{"x":517.5,"y":260},{"x":520,"y":251},{"x":522.5,"y":217},{"x":525,"y":223},{"x":527.5,"y":246},{"x":530,"y":257},{"x":532.5,"y":238},{"x":535,"y":246},{"x":537.5,"y":262},{"x":540,"y":234},{"x":542.5,"y":250},{"x":545,"y":281},{"x":547.5,"y":255},
{"x":550,"y":236},{"x":552.5,"y":263},{"x":555,"y":255},{"x":557.5,"y":235},{"x":560,"y":247},{"x":562.5,"y":248},{"x":565,"y":232},{"x":567.5,"y":224},{"x":570,"y":258},{"x":572.5,"y":268},{"x":575,"y":252},{"x":577.5,"y":241},{"x":580,"y":240},{"x":582.5,"y":272},{"x":585,"y":266},{"x":587.5,"y":240},{"x":590,"y":235},{"x":592.5,"y":246},{"x":595,"y":249},{"x":597.5,"y":237},
{"x":600,"y":260},{"x":602.5,"y":261},{"x":605,"y":244},{"x":607.5,"y":225},{"x":610,"y":232},{"x":612.5,"y":270},{"x":615,"y":265},{"x":617.5,"y":250},{"x":620,"y":246},{"x":622.5,"y":235},{"x":625,"y":258},{"x":627.5,"y":261},{"x":630,"y":235},{"x":632.5,"y":235},{"x":635,"y":254},{"x":637.5,"y":269},{"x":640,"y":270},{"x":642.5,"y":236},{"x":645,"y":245},{"x":647.5,"y":266},
{"x":650,"y":254},{"x":652.5,"y":257},{"x":655,"y":275},{"x":657.5,"y":281},{"x":660,"y":246},{"x":662.5,"y":243},{"x":665,"y":270},{"x":667.5,"y":271},{"x":670,"y":261},{"x":672.5,"y":264},{"x":675,"y":243},{"x":677.5,"y":237},{"x":680,"y":269},{"x":682.5,"y":264},{"x":685,"y":239},{"x":687.5,"y":238},{"x":690,"y":245},{"x":692.5,"y":246},{"x":695,"y":210},{"x":697.5,"y":201},
{"x":700,"y":220},{"x":702.5,"y":229},{"x":705,"y":226},{"x":707.5,"y":191},{"x":710,"y":198},{"x":712.5,"y":215},{"x":715,"y":201},{"x":717.5,"y":203},{"x":720,"y":222},{"x":722.5,"y":191},{"x":725,"y":183},{"x":727.5,"y":212},{"x":730,"y":203},{"x":732.5,"y":195},{"x":735,"y":200},{"x":737.5,"y":203},{"x":740,"y":179},{"x":742.5,"y":177},{"x":745,"y":208},{"x":747.5,"y":208},
{"x":750,"y":191},{"x":752.5,"y":183},{"x":755,"y":212},{"x":757.5,"y":210},{"x":760,"y":186},{"x":762.5,"y":183},{"x":765,"y":189},{"x":767.5,"y":217},{"x":770,"y":203},{"x":772.5,"y":173},{"x":775,"y":169},{"x":777.5,"y":193},{"x":780,"y":198},{"x":782.5,"y":181},{"x":785,"y":195},{"x":787.5,"y":191},{"x":790,"y":178},{"x":792.5,"y":207},{"x":795,"y":208},{"x":797.5,"y":177},
{"x":800,"y":186}],
"b5":[{"x":200,"y":75},{"x":202.5,"y":101},{"x":205,"y":87},{"x":207.5,"y":74},{"x":210,"y":70},{"x":212.5,"y":70},{"x":215,"y":95},{"x":217.5,"y":94},{"x":220,"y":61},{"x":222.5,"y":59},{"x":225,"y":92},{"x":227.5,"y":97},{"x":230,"y":81},{"x":232.5,"y":86},{"x":235,"y":97},{"x":237.5,"y":105},{"x":240,"y":74},{"x":242.5,"y":76},{"x":245,"y":107},{"x":247.5,"y":108},
{"x":250,"y":93},{"x":252.5,"y":76},{"x":255,"y":81},{"x":257.5,"y":107},{"x":260,"y":104},{"x":262.5,"y":91},{"x":265,"y":94},{"x":267.5,"y":113},{"x":270,"y":88},{"x":272.5,"y":93},{"x":275,"y":121},{"x":277.5,"y":113},{"x":280,"y":95},{"x":282.5,"y":85},{"x":285,"y":108},{"x":287.5,"y":110},{"x":290,"y":87},{"x":292.5,"y":92},{"x":295,"y":104},{"x":297.5,"y":128},
{"x":300,"y":116},{"x":302.5,"y":90},{"x":305,"y":87},{"x":307.5,"y":115},{"x":310,"y":106},{"x":312.5,"y":105},{"x":315,"y":117},{"x":317.5,"y":122},{"x":320,"y":97},{"x":322.5,"y":74},{"x":325,"y":91},{"x":327.5,"y":109},{"x":330,"y":114},{"x":332.5,"y":94},{"x":335,"y":102},{"x":337.5,"y":136},{"x":340,"y":125},{"x":342.5,"y":101},{"x":345,"y":95},{"x":347.5,"y":114},
{"x":350,"y":110},{"x":352.5,"y":119},{"x":355,"y":93},{"x":357.5,"y":92},{"x":360,"y":123},{"x":362.5,"y":123},{"x":365,"y":106},{"x":367.5,"y":91},{"x":370,"y":118},{"x":372.5,"y":117},{"x":375,"y":90},{"x":377.5,"y":102},{"x":380,"y":124},{"x":382.5,"y":138},{"x":385,"y":113},{"x":387.5,"y":96},{"x":390,"y":101},{"x":392.5,"y":118},{"x":395,"y":127},{"x":397.5,"y":95},
{"x":400,"y":98},{"x":402.5,"y":120},{"x":405,"y":124},{"x":407.5,"y":107},{"x":410,"y":116},{"x":412.5,"y":130},{"x":415,"y":101},{"x":417.5,"y":108},{"x":420,"y":127},{"x":422.5,"y":107},{"x":425,"y":121},{"x":427.5,"y":129},{"x":430,"y":109},{"x":432.5,"y":112},{"x":435,"y":135},{"x":437.5,"y":127},{"x":440,"y":104},{"x":442.5,"y":89},{"x":445,"y":118},{"x":447.5,"y":140},
{"x":450,"y":129},{"x":452.5,"y":116},{"x":455,"y":119},{"x":457.5,"y":133},{"x":460,"y":107},{"x":462.5,"y":109},{"x":465,"y":140},{"x":467.5,"y":136},{"x":470,"y":121},{"x":472.5,"y":139},{"x":475,"y":133},{"x":477.5,"y":103},{"x":480,"y":110},{"x":482.5,"y":130},{"x":485,"y":129},{"x":487.5,"y":133},{"x":490,"y":145},{"x":492.5,"y":148},{"x":495,"y":114},{"x":497.5,"y":103},
{"x":500,"y":120},{"x":502.5,"y":139},{"x":505,"y":145},{"x":507.5,"y":109},{"x":510,"y":114},{"x":512.5,"y":142},{"x":515,"y":140},{"x":517.5,"y":129},{"x":520,"y":135},{"x":522.5,"y":116},{"x":525,"y":120},{"x":527.5,"y":154},{"x":530,"y":149},{"x":532.5,"y":131},{"x":535,"y":126},{"x":537.5,"y":147},{"x":540,"y":142},{"x":542.5,"y":150},{"x":545,"y":184},{"x":547.5,"y":145},
{"x":550,"y":137},{"x":552.5,"y":125},{"x":555,"y":150},{"x":557.5,"y":150},{"x":560,"y":127},{"x":562.5,"y":125},{"x":565,"y":133},{"x":567.5,"y":166},{"x":570,"y":156},{"x":572.5,"y":160},{"x":575,"y":182},{"x":577.5,"y":160},{"x":580,"y":147},{"x":582.5,"y":150},{"x":585,"y":144},{"x":587.5,"y":148},{"x":590,"y":123},{"x":592.5,"y":118},{"x":595,"y":152},{"x":597.5,"y":154},
{"x":600,"y":135},{"x":602.5,"y":156},{"x":605,"y":157},{"x":607.5,"y":136},{"x":610,"y":131},{"x":612.5,"y":153},{"x":615,"y":140},{"x":617.5,"y":133},{"x":620,"y":154},{"x":622.5,"y":144},{"x":625,"y":120},{"x":627.5,"y":113},{"x":630,"y":149},{"x":632.5,"y":160},{"x":635,"y":146},{"x":637.5,"y":132},{"x":640,"y":129},{"x":642.5,"y":164},{"x":645,"y":159},{"x":647.5,"y":137},
{"x":650,"y":137},{"x":652.5,"y":117},{"x":655,"y":127},{"x":657.5,"y":152},{"x":660,"y":151},{"x":662.5,"y":144},{"x":665,"y":143},{"x":667.5,"y":153},{"x":670,"y":127},{"x":672.5,"y":124},{"x":675,"y":141},{"x":677.5,"y":135},{"x":680,"y":97},{"x":682.5,"y":88},{"x":685,"y":114},{"x":687.5,"y":113},{"x":690,"y":94},{"x":692.5,"y":90},{"x":695,"y":99},{"x":697.5,"y":107},
{"x":700,"y":72},{"x":702.5,"y":82},{"x":705,"y":64},{"x":707.5,"y":62},{"x":710,"y":94},{"x":712.5,"y":100},{"x":715,"y":130},{"x":717.5,"y":85},{"x":720,"y":74},{"x":722.5,"y":81},{"x":725,"y":50},{"x":727.5,"y":54},{"x":730,"y":75},{"x":732.5,"y":80},{"x":735,"y":63},{"x":737.5,"y":38},{"x":740,"y":52},{"x":742.5,"y":70},{"x":745,"y":78},{"x":747.5,"y":46},
{"x":750,"y":40},{"x":752.5,"y":48},{"x":755,"y":68},{"x":757.5,"y":84},{"x":760,"y":55},{"x":762.5,"y":52},{"x":765,"y":71},{"x":767.5,"y":67},{"x":770,"y":47},{"x":772.5,"y":39},{"x":775,"y":62},{"x":777.5,"y":66},{"x":780,"y":45},{"x":782.5,"y":58},{"x":785,"y":79},{"x":787.5,"y":82},{"x":790,"y":51},{"x":792.5,"y":34},{"x":795,"y":55},{"x":797.5,"y":75},
{"x":800,"y":75}]
},
"hconcat":[
{
"width":783,"height":718,
"encoding":{
"x":{"field":"x","type":"quantitative","scale":{"domain":[200,800],"nice":false,"zero":false},
"axis":{"values":[200,250,300,350,400,450,500,550,600,650,700,750,800],"format":"d","labelExpr":"datum.value % 100 === 0 ? datum.label : ''","labelOverlap":false,"labelFlush":false,"tickSize":{"condition":{"test":"datum.value % 100 === 0","value":12},"value":6},"labelPadding":11,"title":"Raman shift (cm⁻¹)","titlePadding":12}},
"y":{"field":"y","type":"quantitative","scale":{"domain":[0,718],"nice":false,"zero":false},"axis":null}
},
"layer":[
{"data":{"name":"a1"},"mark":{"type":"line","color":"black","strokeWidth":1.5}},
{"data":{"name":"a2"},"mark":{"type":"line","color":"black","strokeWidth":1.5}},
{"data":{"name":"a3"},"mark":{"type":"line","color":"black","strokeWidth":1.5}},
{"data":{"name":"a4"},"mark":{"type":"line","color":"black","strokeWidth":1.5}},
{"data":{"name":"a5"},"mark":{"type":"line","color":"black","strokeWidth":1.5}},
{"data":{"values":[{"x":525,"y":617,"y2":111},{"x":678,"y":580,"y2":45}]},"mark":{"type":"rule","color":"#F9C93F","strokeWidth":8,"strokeCap":"round"},"encoding":{"y2":{"field":"y2"}}},
{"data":{"values":[{"x":605,"y":619,"t":"LSM"}]},"mark":{"type":"text","fontSize":36,"fontWeight":"bold","color":"#FFC20E","align":"center","baseline":"middle"},"encoding":{"text":{"field":"t"}}},
{"data":{"values":[{"x":174.7,"y":694,"t":"A"}]},"mark":{"type":"text","fontSize":33,"fontWeight":"bold","color":"black","align":"left","baseline":"alphabetic"},"encoding":{"text":{"field":"t"}}}
]
},
{
"width":218,"height":718,
"view":{"stroke":null},
"encoding":{
"x":{"field":"x","type":"quantitative","scale":{"domain":[0,218],"nice":false,"zero":false},"axis":null},
"y":{"field":"y","type":"quantitative","scale":{"domain":[0,718],"nice":false,"zero":false},"axis":null}
},
"layer":[
{"data":{"values":[
{"x":109,"y":509,"t":"air"},{"x":109,"y":478,"t":"(300–400 h)"},
{"x":109,"y":386,"t":"1 ppm SO₂"},{"x":109,"y":354,"t":"(200–300 h)"},
{"x":109,"y":277,"t":"air"},{"x":109,"y":247,"t":"(100–200 h)"},
{"x":109,"y":167,"t":"1 ppm SO₂"},{"x":109,"y":137,"t":"(0–100 h)"},
{"x":109,"y":46,"t":"As-prepare"}]},
"mark":{"type":"text","fontSize":22,"fontStyle":"italic","color":"black","align":"center","baseline":"middle"},"encoding":{"text":{"field":"t"}}},
{"data":{"values":[{"x":109,"y":409,"y2":450},{"x":109,"y":332,"y2":302},{"x":109,"y":226,"y2":192},{"x":109,"y":116,"y2":71}]},
"mark":{"type":"rule","color":"black","strokeWidth":5},"encoding":{"y2":{"field":"y2"}}},
{"data":{"values":[{"x":109,"y":453.5}]},"mark":{"type":"point","shape":"M-1,0.55L0,-0.55L1,0.55Z","filled":true,"color":"black","opacity":1,"size":400}}
]
},
{
"width":783,"height":718,
"encoding":{
"x":{"field":"x","type":"quantitative","scale":{"domain":[200,800],"nice":false,"zero":false},
"axis":{"values":[200,250,300,350,400,450,500,550,600,650,700,750,800],"format":"d","labelExpr":"datum.value % 100 === 0 ? datum.label : ''","labelOverlap":false,"labelFlush":false,"tickSize":{"condition":{"test":"datum.value % 100 === 0","value":12},"value":6},"labelPadding":11,"title":"Raman shift (cm⁻¹)","titlePadding":12}},
"y":{"field":"y","type":"quantitative","scale":{"domain":[0,718],"nice":false,"zero":false},"axis":null}
},
"layer":[
{"data":{"name":"b1"},"mark":{"type":"line","color":"black","strokeWidth":1.5}},
{"data":{"name":"b2"},"mark":{"type":"line","color":"black","strokeWidth":1.5}},
{"data":{"name":"b3"},"mark":{"type":"line","color":"black","strokeWidth":1.5}},
{"data":{"name":"b4"},"mark":{"type":"line","color":"black","strokeWidth":1.5}},
{"data":{"name":"b5"},"mark":{"type":"line","color":"black","strokeWidth":1.5}},
{"data":{"values":[{"x":543,"y":609,"y2":42},{"x":664,"y":639,"y2":75}]},"mark":{"type":"rule","color":"#A5D778","strokeWidth":8,"strokeCap":"round"},"encoding":{"y2":{"field":"y2"}}},
{"data":{"values":[{"x":604,"y":642,"t":"LSCF"}]},"mark":{"type":"text","fontSize":36,"fontWeight":"bold","color":"#92D050","align":"center","baseline":"middle"},"encoding":{"text":{"field":"t"}}},
{"data":{"values":[{"x":732,"y":600,"t":"Co₃O₄"}]},"mark":{"type":"text","fontSize":30,"fontWeight":"bold","color":"#FF0000","align":"center","baseline":"middle"},"encoding":{"text":{"field":"t"}}},
{"data":{"values":[{"x":722.6,"y":578,"x2":698.4,"y2":466.3}]},"mark":{"type":"rule","color":"#FF0000","strokeWidth":5},"encoding":{"x2":{"field":"x2"},"y2":{"field":"y2"}}},
{"data":{"values":[{"x":696.8,"y":458.5}]},"mark":{"type":"point","shape":"M-1,-1L1,-1L0,1Z","filled":true,"color":"#FF0000","opacity":1,"size":576,"angle":16}},
{"data":{"values":[{"x":174.7,"y":694,"t":"B"}]},"mark":{"type":"text","fontSize":33,"fontWeight":"bold","color":"black","align":"left","baseline":"alphabetic"},"encoding":{"text":{"field":"t"}}}
]
}
]
}
